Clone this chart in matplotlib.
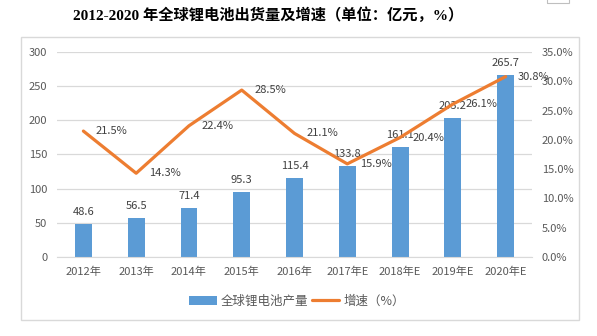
import matplotlib
matplotlib.use('Agg')
import matplotlib.pyplot as plt
from matplotlib.patches import Rectangle
from matplotlib.ticker import FuncFormatter

plt.rcParams['font.family'] = ['Noto Sans CJK SC', 'DejaVu Sans']

years = ['2012年', '2013年', '2014年', '2015年', '2016年',
         '2017年E', '2018年E', '2019年E', '2020年E']
output = [48.6, 56.5, 71.4, 95.3, 115.4, 133.8, 161.1, 203.2, 265.7]
growth = [21.5, 14.3, 22.4, 28.5, 21.1, 15.9, 20.4, 26.1, 30.8]

bar_color = '#5B9BD5'
line_color = '#ED7D31'
text_color = '#595959'
grid_color = '#D9D9D9'

fig = plt.figure(figsize=(5.97, 3.36), dpi=100)
fig.patch.set_facecolor('white')

# chart frame
fig.patches.append(Rectangle((21 / 597, 1 - 320 / 336), 558 / 597, 283 / 336,
                             transform=fig.transFigure, fill=False,
                             edgecolor=grid_color, linewidth=1))
fig.patches.append(Rectangle((547 / 597, 1 - 3 / 336), 22 / 597, 6 / 336,
                             transform=fig.transFigure, fill=False,
                             edgecolor='#BFBFBF', linewidth=0.8))

ax = fig.add_axes([57 / 597, 1 - 257 / 336, 475 / 597, 205 / 336])
x = list(range(len(years)))

bars = ax.bar(x, output, width=0.32, color=bar_color, zorder=2,
              label='全球锂电池产量')
ax.set_ylim(0, 300)
ax.set_xlim(-0.5, len(years) - 0.5)
ax.set_yticks(range(0, 301, 50))
ax.yaxis.grid(True, color=grid_color, linewidth=0.9, zorder=0)
ax.set_axisbelow(True)
for s in ['top', 'right', 'left']:
    ax.spines[s].set_visible(False)
ax.spines['bottom'].set_color(grid_color)
ax.tick_params(axis='both', length=0, colors=text_color, labelsize=8)
ax.tick_params(axis='x', pad=7)
ax.tick_params(axis='y', pad=7)
ax.set_xticks(x)
ax.set_xticklabels(years)

for xi, v in zip(x, output):
    ax.annotate(f'{v:.1f}', (xi, v), xytext=(0, 5), textcoords='offset points',
                ha='center', va='bottom', fontsize=8, color='#404040')

ax2 = ax.twinx()
ax2.plot(x, growth, color=line_color, linewidth=2.3, zorder=3,
         solid_capstyle='round', label='增速（%）')
ax2.set_ylim(0, 35)
ax2.set_yticks(range(0, 36, 5))
ax2.yaxis.set_major_formatter(FuncFormatter(lambda v, p: f'{v:.1f}%'))
for s in ['top', 'right', 'left', 'bottom']:
    ax2.spines[s].set_visible(False)
ax2.tick_params(axis='y', length=0, colors=text_color, labelsize=8, pad=7)

for xi, v in zip(x, growth):
    ax2.annotate(f'{v:.1f}%', (xi, v), xytext=(9, 0), textcoords='offset points',
                 ha='left', va='center', fontsize=8, color='#404040')

fig.text(268 / 597, 1 - 15 / 336, '2012-2020 年全球锂电池出货量及增速（单位：亿元，%）',
         ha='center', va='center', fontsize=11, fontweight='bold',
         family=['Liberation Serif', 'Noto Sans CJK SC'], color='black')

h1, l1 = ax.get_legend_handles_labels()
h2, l2 = ax2.get_legend_handles_labels()
fig.legend(h1 + h2, l1 + l2, loc='center', bbox_to_anchor=(297 / 597, 1 - 301 / 336),
           ncol=2, frameon=False, fontsize=9, labelcolor=text_color,
           handlelength=2.2, handletextpad=0.3, columnspacing=0.3)

fig.savefig('out.png', dpi=100, facecolor='white')
